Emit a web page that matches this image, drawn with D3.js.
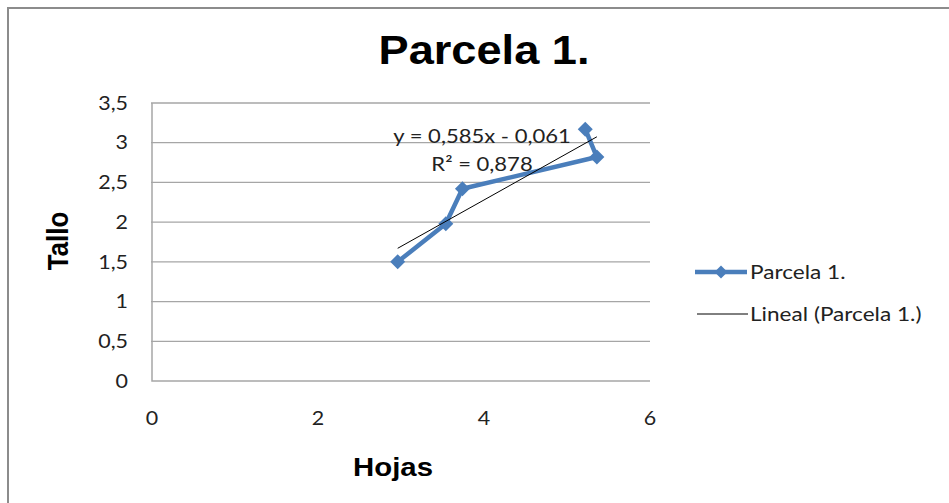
<!DOCTYPE html>
<html><head><meta charset="utf-8">
<script src="https://cdn.jsdelivr.net/npm/d3@7"></script>
<style>body{margin:0;background:#fff}svg{display:block}</style>
</head><body><svg id="c" width="949" height="503"></svg>
<script>
const title = "Parcela 1.";
const xLabel = "Hojas";
const yLabel = "Tallo";
const hojas = [2.96, 3.54, 3.74, 5.36, 5.22];
const tallo = [1.50, 1.98, 2.42, 2.82, 3.17];
const xTicks = [0, 2, 4, 6];
const yTicks = [0, 0.5, 1, 1.5, 2, 2.5, 3, 3.5];
const trendSlope = 0.585, trendIntercept = -0.061, trendR2 = 0.878;
const eqText = "y = 0,585x - 0,061";
const r2Text = "R² = 0,878";
const legendLabels = ["Parcela 1.", "Lineal (Parcela 1.)"];

const svg = d3.select("#c");
const SX = 1.13;
const blue = "#4a7ebb", grid = "#a6a6a6";
const fmt = v => String(v).replace(".", ",");
function txt(x, y, s, opt) {
  const t = opt.rot ? `translate(${x},${y}) rotate(-90) scale(1,${SX})` : `translate(${x},${y}) scale(${SX},1)`;
  const g = svg.append("g").attr("transform", t);
  return g.append("text").attr("text-anchor", opt.anchor || "middle")
    .attr("font-family", opt.family || "Lato, 'Open Sans', sans-serif")
    .attr("font-size", opt.size).attr("font-weight", opt.weight || "normal")
    .attr("fill", opt.fill || "#000").attr("dy", opt.dy || 0).text(s);
}

// frame
svg.append("path").attr("d", "M8,503 V8 H949").attr("fill", "none").attr("stroke", "#8c8c8c").attr("stroke-width", 2);

const x = d3.scaleLinear().domain([0, 6]).range([152, 650]);
const y = d3.scaleLinear().domain([0, 3.5]).range([381, 103]);

// gridlines
svg.append("g").selectAll("line").data(yTicks.filter(v => v > 0)).join("line")
  .attr("x1", x(0) - 1).attr("x2", x(6)).attr("y1", d => y(d)).attr("y2", d => y(d))
  .attr("stroke", grid).attr("stroke-width", 1.3);
// axes lines
svg.append("path").attr("d", `M${x(0)},${y(3.5)} V${y(0)} H${x(6)}`).attr("fill", "none").attr("stroke", grid).attr("stroke-width", 1.5);

// tick labels
yTicks.forEach(v => txt(128, y(v), fmt(v), {anchor: "end", size: 19, dy: "0.35em", fill: "#222"}));
xTicks.forEach(v => txt(x(v), 425, fmt(v), {anchor: "middle", size: 19, fill: "#222"}));

// title & axis titles
txt(484, 64, title, {size: 40, weight: "bold", family: "'Liberation Sans', Arial, sans-serif"});
txt(393, 476, xLabel, {size: 26, weight: "bold", family: "'Liberation Sans', Arial, sans-serif"});
txt(68, 241, yLabel, {size: 26, weight: "bold", family: "'Liberation Sans', Arial, sans-serif", rot: true});

// series line
const pts = hojas.map((h, i) => [x(h), y(tallo[i])]);
svg.append("path").attr("d", d3.line()(pts)).attr("fill", "none").attr("stroke", blue).attr("stroke-width", 4.5).attr("stroke-linejoin", "round");
const diamond = r => `M0,${-r}L${r},0L0,${r}L${-r},0Z`;
svg.append("g").selectAll("path").data(pts).join("path")
  .attr("transform", d => `translate(${d[0]},${d[1]})`).attr("d", diamond(7.5)).attr("fill", blue);

// trendline
const xmin = d3.min(hojas), xmax = d3.max(hojas);
svg.append("line").attr("x1", x(xmin)).attr("y1", y(trendSlope * xmin + trendIntercept))
  .attr("x2", x(xmax)).attr("y2", y(trendSlope * xmax + trendIntercept))
  .attr("stroke", "#000").attr("stroke-width", 1);

// equation
txt(482, 143, eqText, {size: 19.5, fill: "#222"});
txt(482, 171, r2Text, {size: 19.5, fill: "#222"});

// legend
svg.append("line").attr("x1", 695).attr("x2", 747).attr("y1", 272).attr("y2", 272).attr("stroke", blue).attr("stroke-width", 4.5);
svg.append("path").attr("transform", "translate(721,272)").attr("d", diamond(6.5)).attr("fill", blue);
svg.append("line").attr("x1", 697).attr("x2", 748).attr("y1", 314).attr("y2", 314).attr("stroke", "#000").attr("stroke-width", 1);
txt(750, 272, legendLabels[0], {anchor: "start", size: 20, dy: "0.35em", fill: "#222"});
txt(750, 314, legendLabels[1], {anchor: "start", size: 20, dy: "0.35em", fill: "#222"});
</script></body></html>
